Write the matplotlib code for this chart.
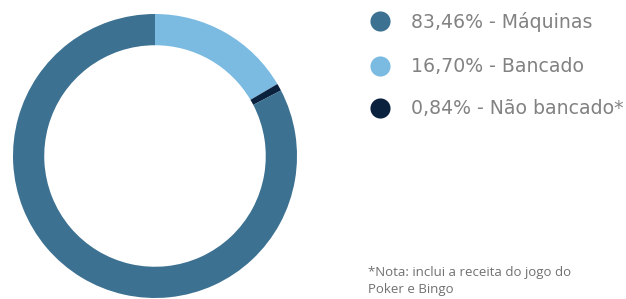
import matplotlib.pyplot as plt
plt.switch_backend('agg')

# data
labels = ['Máquinas', 'Bancado', 'Não bancado*']
shares = [83.46, 16.70, 0.84]
colors = ['#3c7191', '#7bbbe1', '#0b223f']
note = '*Nota: inclui a receita do jogo do\nPoker e Bingo'

W, H = 626, 299
fig = plt.figure(figsize=(W / 100, H / 100), dpi=100)
plt.rcParams['font.family'] = ['Open Sans', 'DejaVu Sans']

# donut, drawn clockwise from 12 o'clock: Bancado, Não bancado, Máquinas
cx, cy, r = 155, 156, 142
ax = fig.add_axes([(cx - r) / W, (H - cy - r) / H, 2 * r / W, 2 * r / H])
order = [1, 2, 0]
ax.pie([shares[i] for i in order], colors=[colors[i] for i in order],
       startangle=90, counterclock=False, radius=1.0,
       wedgeprops=dict(width=0.22, linewidth=0))
ax.set_xlim(-1, 1)
ax.set_ylim(-1, 1)
ax.set_aspect('equal')
ax.axis('off')

# legend on an overlay in pixel coords
ov = fig.add_axes([0, 0, 1, 1])
ov.set_xlim(0, W)
ov.set_ylim(H, 0)
ov.axis('off')
ys = [21, 66, 108]
for i, y in enumerate(ys):
    ov.scatter([380], [y], s=210, color=colors[i], linewidths=0)
    txt = f"{shares[i]:.2f}".replace('.', ',') + f"% - {labels[i]}"
    ov.text(411, y + 1, txt, fontsize=13.6, color='#828282', va='center',
            ha='left', family='DejaVu Sans')

ov.text(368, 281, note, fontsize=9.5, color='#707070', va='center', ha='left',
        linespacing=1.35)

fig.savefig('out.png', dpi=100)
